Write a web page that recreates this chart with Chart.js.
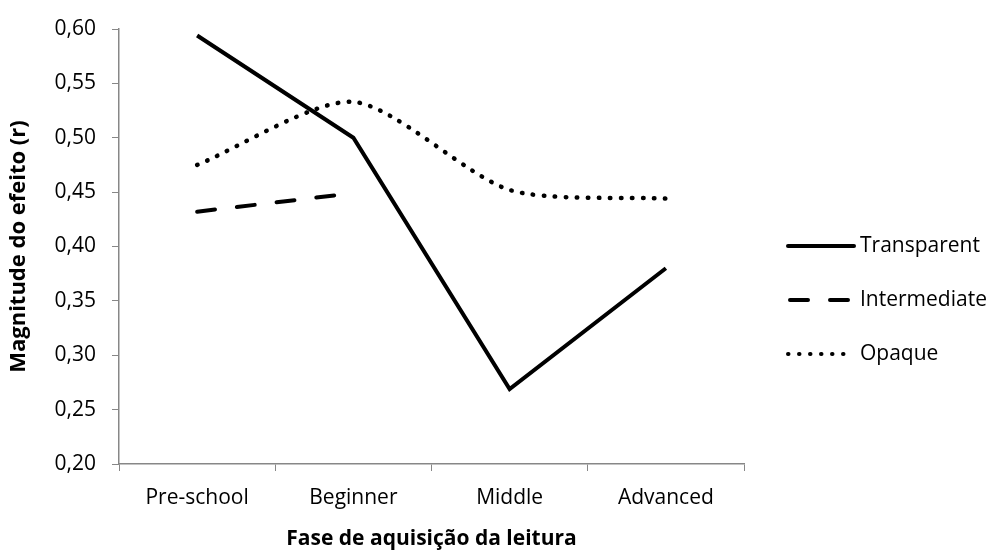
<!DOCTYPE html>
<html>
<head>
<meta charset="utf-8">
<script src="https://cdn.jsdelivr.net/npm/chart.js@4/dist/chart.umd.min.js"></script>
<style>
  html, body { margin: 0; padding: 0; background: #fff; }
  #wrap { width: 1008px; height: 552px; }
</style>
</head>
<body>
<div id="wrap"><canvas id="grafico" width="1008" height="552"></canvas></div>
<script>
// Datos
const fases = ['Pre-school', 'Beginner', 'Middle', 'Advanced']
const transparent = [0.594, 0.500, 0.269, 0.380]
const intermediate = [0.432, 0.449, null, null]
const opaque = [0.475, 0.533, 0.452, 0.444]

const fuente = '"Open Sans", Lato, sans-serif'

// Leyenda dibujada a mano a la derecha, con las líneas largas del original
const leyenda = {
  id: 'leyenda',
  afterDraw(chart) {
    const ctx = chart.ctx
    ctx.save()
    chart.data.datasets.forEach((ds, i) => {
      const y = 246 + i * 54
      ctx.strokeStyle = '#000'
      ctx.lineWidth = 4
      ctx.lineCap = 'round'
      ctx.setLineDash(ds.borderDash || [])
      ctx.beginPath()
      ctx.moveTo(ds.legendStart || 788, y)
      ctx.lineTo(854, y)
      ctx.stroke()
      ctx.setLineDash([])
      ctx.fillStyle = '#000'
      ctx.font = '21px ' + fuente
      ctx.textBaseline = 'middle'
      ctx.fillText(ds.label, 860, y)
    })
    ctx.restore()
  }
}

new Chart(document.getElementById('grafico'), {
  type: 'line',
  data: {
    labels: fases,
    datasets: [{
      label: 'Transparent',
      data: transparent,
      borderColor: '#000',
      borderWidth: 4,
      tension: 0,
      pointRadius: 0
    }, {
      label: 'Intermediate',
      data: intermediate,
      borderColor: '#000',
      borderWidth: 4,
      borderDash: [18, 22],
      borderCapStyle: 'round',
      tension: 0,
      pointRadius: 0,
      legendStart: 790
    }, {
      label: 'Opaque',
      data: opaque,
      borderColor: '#000',
      borderWidth: 4.5,
      borderDash: [0.5, 10.5],
      borderCapStyle: 'round',
      tension: 0.25,
      pointRadius: 0,
      legendStart: 788
    }]
  },
  options: {
    responsive: false,
    animation: false,
    layout: { padding: { top: 29, right: 264, bottom: 0, left: 6 } },
    plugins: {
      legend: { display: false },
      tooltip: { enabled: false }
    },
    scales: {
      x: {
        offset: true,
        grid: {
          offset: true,
          drawOnChartArea: false,
          drawTicks: true,
          tickLength: 7,
          color: '#878787'
        },
        border: { color: '#878787', width: 1.5 },
        ticks: { color: '#000', font: { family: fuente, size: 21 }, padding: 14 },
        title: {
          display: true,
          text: 'Fase de aquisição da leitura',
          color: '#000',
          font: { family: fuente, size: 21, weight: 'bold' },
          padding: { top: 0, bottom: 0 }
        },
        afterFit: (s) => { s.height = 88 }
      },
      y: {
        min: 0.2,
        max: 0.6,
        grid: {
          drawOnChartArea: false,
          drawTicks: true,
          tickLength: 7,
          color: '#878787'
        },
        border: { color: '#878787', width: 1.5 },
        ticks: {
          stepSize: 0.05,
          color: '#000',
          font: { family: fuente, size: 21 },
          padding: 16,
          callback: (v) => v.toFixed(2).replace('.', ',')
        },
        title: {
          display: true,
          text: 'Magnitude do efeito (r)',
          color: '#000',
          font: { family: fuente, size: 22, weight: 'bold' },
          padding: { top: 0, bottom: 6 }
        },
        afterFit: (s) => { s.width = 113 }
      }
    }
  },
  plugins: [leyenda]
})
</script>
</body>
</html>
